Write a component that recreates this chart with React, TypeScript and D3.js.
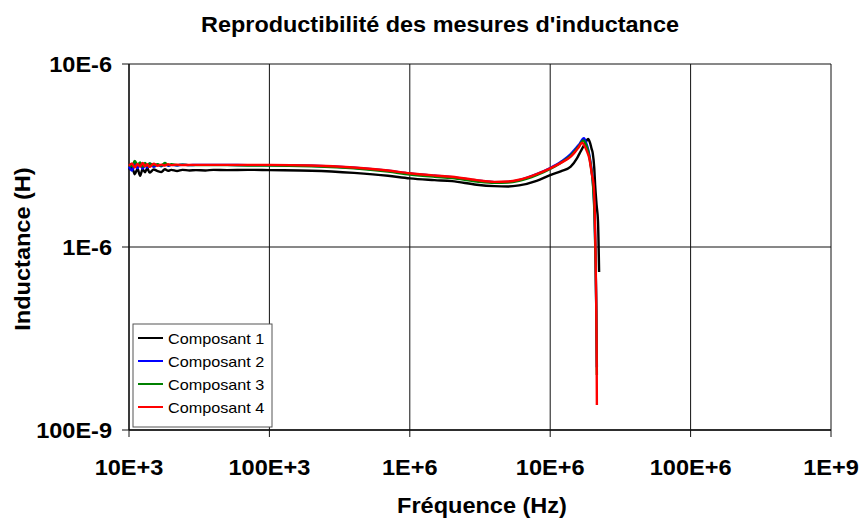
import * as d3 from "d3";

const W = 862;
const H = 519;
const margin = { top: 64, right: 31, bottom: 89, left: 129 };

// shared frequency grid (Hz) up to the resonance region
const freqBase = [
  1.0e4, 1.05e4, 1.1e4, 1.15e4, 1.2e4, 1.25e4, 1.3e4, 1.35e4, 1.4e4, 1.5e4, 1.6e4, 1.7e4, 1.8e4,
  1.9e4, 2.0e4, 2.2e4, 2.4e4, 2.7e4, 3e4, 3.5e4, 4e4, 5e4, 7e4, 1e5, 2e5, 4e5, 7e5, 1e6, 1.5e6,
  2e6, 3e6, 4e6, 5e6, 6e6, 8e6, 1e7, 1.2e7, 1.4e7,
];

// inductance values in µH
const base1 = [
  2.64, 2.72, 2.5, 2.68, 2.45, 2.66, 2.56, 2.7, 2.55, 2.65, 2.6, 2.57, 2.66, 2.61, 2.64, 2.6, 2.64,
  2.62, 2.63, 2.62, 2.64, 2.63, 2.64, 2.63, 2.61, 2.54, 2.45, 2.37, 2.32, 2.29, 2.19, 2.15, 2.14,
  2.17, 2.3, 2.47, 2.6, 2.75,
];
const base2 = [
  2.75, 2.62, 2.85, 2.7, 2.88, 2.68, 2.8, 2.72, 2.86, 2.74, 2.82, 2.76, 2.84, 2.78, 2.81, 2.79, 2.82,
  2.8, 2.81, 2.81, 2.81, 2.81, 2.8, 2.8, 2.78, 2.71, 2.61, 2.52, 2.45, 2.41, 2.31, 2.26, 2.27, 2.32,
  2.5, 2.7, 2.93, 3.22,
];
const base3 = [
  2.82, 2.76, 2.95, 2.8, 2.9, 2.74, 2.88, 2.78, 2.86, 2.8, 2.83, 2.78, 2.88, 2.8, 2.83, 2.8, 2.82,
  2.8, 2.8, 2.8, 2.8, 2.8, 2.79, 2.79, 2.76, 2.69, 2.58, 2.49, 2.42, 2.38, 2.28, 2.24, 2.25, 2.3,
  2.47, 2.67, 2.9, 3.16,
];
const base4 = [
  2.78, 2.86, 2.72, 2.84, 2.75, 2.88, 2.76, 2.83, 2.74, 2.85, 2.78, 2.82, 2.79, 2.83, 2.8, 2.82, 2.8,
  2.81, 2.81, 2.81, 2.81, 2.81, 2.81, 2.81, 2.79, 2.72, 2.62, 2.53, 2.46, 2.42, 2.32, 2.27, 2.28,
  2.33, 2.5, 2.69, 2.89, 3.12,
];

// resonance tails
const tailFreq1 = [1.55e7, 1.62e7, 1.7e7, 1.78e7, 1.86e7, 1.92e7, 1.97e7, 2.01e7, 2.06e7, 2.09e7, 2.14e7, 2.19e7, 2.23e7];
const tailVal1 = [3.05, 3.25, 3.48, 3.7, 3.89, 3.72, 3.45, 3.25, 2.7, 2.18, 1.7, 1.38, 0.73];
const tailFreq2 = [1.5e7, 1.6e7, 1.74e7, 1.8e7, 1.87e7, 1.95e7, 2.02e7, 2.07e7, 2.1e7, 2.13e7, 2.15e7];
const tailVal2 = [3.42, 3.62, 3.93, 3.72, 3.38, 2.8, 2.2, 1.5, 0.95, 0.45, 0.22];
const tailFreq3 = [1.5e7, 1.6e7, 1.72e7, 1.8e7, 1.87e7, 1.95e7, 2.02e7, 2.07e7, 2.1e7, 2.13e7, 2.15e7];
const tailVal3 = [3.35, 3.55, 3.82, 3.62, 3.3, 2.75, 2.15, 1.45, 0.9, 0.45, 0.2];
const tailFreq4 = [1.5e7, 1.6e7, 1.69e7, 1.76e7, 1.83e7, 1.9e7, 1.98e7, 2.04e7, 2.08e7, 2.1e7, 2.12e7, 2.14e7, 2.15e7];
const tailVal4 = [3.3, 3.52, 3.72, 3.55, 3.32, 3.05, 2.5, 2.18, 1.5, 1.0, 0.61, 0.3, 0.137];

const seriesNames = ["Composant 1", "Composant 2", "Composant 3", "Composant 4"];
const seriesColors = ["#000000", "#0000ff", "#008000", "#ff0000"];

const xTicks = [1e4, 1e5, 1e6, 1e7, 1e8, 1e9];
const xTickLabels = ["10E+3", "100E+3", "1E+6", "10E+6", "100E+6", "1E+9"];
const yTicks = [1e-5, 1e-6, 1e-7];
const yTickLabels = ["10E-6", "1E-6", "100E-9"];

const series = [
  { f: [...freqBase, ...tailFreq1], v: [...base1, ...tailVal1] },
  { f: [...freqBase, ...tailFreq2], v: [...base2, ...tailVal2] },
  { f: [...freqBase, ...tailFreq3], v: [...base3, ...tailVal3] },
  { f: [...freqBase, ...tailFreq4], v: [...base4, ...tailVal4] },
].map((s, i) => ({
  name: seriesNames[i],
  color: seriesColors[i],
  points: s.f.map((f, j) => [f, s.v[j] * 1e-6] as [number, number]),
}));

const font = "'Liberation Sans', Arial, Helvetica, sans-serif";
const SX = 1.07; // text in the original is slightly stretched horizontally

export default function App() {
  const x = d3.scaleLog().domain([1e4, 1e9]).range([margin.left, W - margin.right]);
  const y = d3.scaleLog().domain([1e-7, 1e-5]).range([H - margin.bottom, margin.top]);
  const line = d3
    .line<[number, number]>()
    .x((d) => x(d[0]))
    .y((d) => y(d[1]))
    .curve(d3.curveMonotoneX);

  const x0 = margin.left;
  const x1 = W - margin.right;
  const y0 = H - margin.bottom;
  const y1 = margin.top;

  return (
    <svg
      width={W}
      height={H}
      style={{ position: "absolute", left: 0, top: 0, background: "#fff" }}
      fontFamily={font}
    >
      <rect width={W} height={H} fill="#fff" />
      <text
        transform={`translate(440,32) scale(1.09,1)`}
        textAnchor="middle"
        fontSize={21.5}
        fontWeight="bold"
      >
        Reproductibilité des mesures d'inductance
      </text>

      {/* grid */}
      {xTicks.map((t) => (
        <line key={"gx" + t} x1={x(t)} x2={x(t)} y1={y1} y2={y0 + 7} stroke="#111" strokeWidth={1} />
      ))}
      {yTicks.map((t) => (
        <line key={"gy" + t} x1={x0 - 7} x2={x1} y1={y(t)} y2={y(t)} stroke="#111" strokeWidth={1} />
      ))}
      <line x1={x0} x2={x0} y1={y1} y2={y0} stroke="#111" strokeWidth={1.3} />
      <line x1={x0} x2={x1} y1={y0} y2={y0} stroke="#111" strokeWidth={1.3} />

      {/* series */}
      {series.map((s) => (
        <path key={s.name} d={line(s.points) || ""} fill="none" stroke={s.color} strokeWidth={2.4} />
      ))}

      {/* tick labels */}
      {xTicks.map((t, i) => (
        <text
          key={"tx" + t}
          transform={`translate(${x(t)},475) scale(${SX},1)`}
          textAnchor="middle"
          fontSize={22}
          fontWeight="bold"
        >
          {xTickLabels[i]}
        </text>
      ))}
      {yTicks.map((t, i) => (
        <text
          key={"ty" + t}
          transform={`translate(112,${y(t) + 8}) scale(${SX},1)`}
          textAnchor="end"
          fontSize={22}
          fontWeight="bold"
        >
          {yTickLabels[i]}
        </text>
      ))}

      {/* axis titles */}
      <text
        transform={`translate(482,513) scale(${SX},1)`}
        textAnchor="middle"
        fontSize={22}
        fontWeight="bold"
      >
        Fréquence (Hz)
      </text>
      <text
        transform={`translate(30,249) rotate(-90) scale(${SX},1)`}
        textAnchor="middle"
        fontSize={22}
        fontWeight="bold"
      >
        Inductance (H)
      </text>

      {/* legend */}
      <g>
        <rect x={133} y={324} width={139} height={103} fill="#fff" stroke="#555" strokeWidth={1} />
        {series.map((s, i) => (
          <g key={"lg" + s.name} transform={`translate(0,${338 + i * 23})`}>
            <line x1={138} x2={163} y1={0} y2={0} stroke={s.color} strokeWidth={2} />
            <text transform={`translate(168,5.5) scale(1.08,1)`} fontSize={15}>
              {s.name}
            </text>
          </g>
        ))}
      </g>
    </svg>
  );
}
